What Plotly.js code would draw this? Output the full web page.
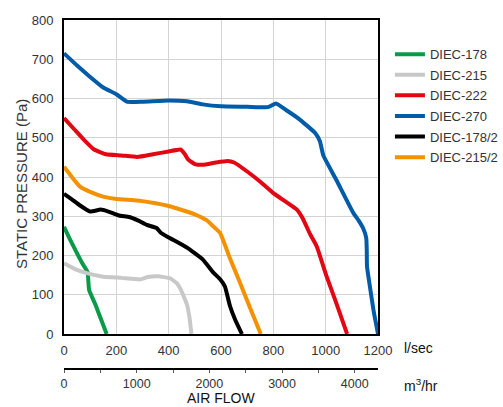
<!DOCTYPE html>
<html>
<head>
<meta charset="utf-8">
<script src="https://cdn.plot.ly/plotly-3.0.1.min.js"></script>
<style>html,body{margin:0;padding:0;background:#fff;}#chart{width:503px;height:407px;}</style>
</head>
<body>
<div id="chart"></div>
<script>
// Series: air flow (l/sec) and static pressure (Pa)
const names = ["DIEC-178", "DIEC-215", "DIEC-222", "DIEC-270", "DIEC-178/2", "DIEC-215/2"];
const colors = ["#0a9a48", "#c8c8c8", "#e30613", "#005ca9", "#000000", "#f39200"];

const flow178 = [0, 20, 45, 70, 90, 93, 96, 120, 140, 163];
const pres178 = [273, 245, 212, 180, 158, 135, 112, 75, 40, 0];

const flow215 = [0, 40, 87, 150, 220, 290, 320, 360, 405, 430, 445, 460, 470, 480, 487];
const pres215 = [180, 166, 155, 146, 143, 139, 145, 147, 142, 130, 115, 92, 75, 40, 0];

const flow222 = [0, 40, 80, 115, 160, 220, 280, 340, 400, 445, 462, 475, 500, 530, 580, 625, 650, 700, 750, 800, 850, 890, 912, 940, 966, 1004, 1040, 1082];
const pres222 = [550, 521, 492, 470, 458, 455, 451, 458, 465, 470, 458, 444, 433, 431, 437, 441, 437, 414, 388, 359, 336, 317, 295, 255, 223, 146, 80, 0];

const flow270 = [0, 50, 100, 150, 200, 240, 300, 400, 470, 530, 600, 700, 780, 810, 850, 900, 960, 978, 991, 1042, 1106, 1125, 1144, 1155, 1157, 1158, 1169, 1183, 1200];
const pres270 = [715, 684, 655, 628, 611, 592, 592, 595, 593, 585, 580, 579, 578, 587, 570, 547, 512, 491, 455, 391, 308, 290, 268, 245, 215, 172, 121, 60, 0];

const flow178_2 = [0, 30, 60, 100, 140, 170, 210, 250, 280, 316, 354, 370, 400, 470, 530, 570, 596, 615, 634, 655, 680];
const pres178_2 = [357, 343, 328, 312, 317, 312, 302, 298, 290, 278, 270, 258, 246, 220, 190, 157, 140, 121, 72, 35, 0];

const flow215_2 = [0, 30, 60, 100, 150, 200, 280, 350, 400, 450, 500, 545, 571, 596, 634, 673, 712, 752];
const pres215_2 = [426, 400, 376, 362, 350, 344, 340, 333, 326, 316, 305, 290, 274, 258, 193, 130, 65, 0];

const flows = [flow178, flow215, flow222, flow270, flow178_2, flow215_2];
const pressures = [pres178, pres215, pres222, pres270, pres178_2, pres215_2];

// m3/hr axis range derived from l/sec range (1 l/s = 3.6 m3/h)
const flowMax = 1200;
const m3hMax = flowMax * 3.6;

const traces = names.map((n, i) => ({
  type: "scatter", mode: "lines", name: n,
  x: flows[i], y: pressures[i],
  line: {color: colors[i], width: 4, shape: "spline", smoothing: 0.4},
  legendgroup: "g" + i,
  hoverinfo: "skip"
}));
traces.push({type: "scatter", mode: "lines", x: [0, m3hMax], y: [null, null], xaxis: "x2", yaxis: "y", showlegend: false, hoverinfo: "skip"});

const txt = "#333333";
const fam = "Liberation Sans, Arial, sans-serif";

const layout = {
  width: 503, height: 407,
  margin: {l: 64, r: 125, t: 20, b: 38, autoexpand: false},
  paper_bgcolor: "#ffffff", plot_bgcolor: "#ffffff",
  font: {family: fam, size: 13, color: txt},
  showlegend: true,
  legend: {x: 1.038, y: 0.945, xanchor: "left", yanchor: "top", font: {size: 13, color: txt}, tracegroupgap: 0.7, bgcolor: "rgba(0,0,0,0)"},
  xaxis: {
    range: [0, flowMax], dtick: 200, anchor: "y",
    showgrid: true, gridcolor: "#d4d4d4", gridwidth: 1,
    showline: true, linecolor: "#000", linewidth: 2, mirror: true,
    ticks: "", ticklabelstandoff: 3, zeroline: false,
    tickfont: {size: 13, color: txt}
  },
  xaxis2: {
    overlaying: "x", anchor: "free", position: 0, side: "bottom",
    range: [0, m3hMax], dtick: 1000, showgrid: false, zeroline: false,
    showline: true, linecolor: "#000", linewidth: 2,
    ticks: "outside", ticklen: 3, tickwidth: 1, tickcolor: "#555",
    minor: {dtick: 500, ticks: "outside", ticklen: 3, tickwidth: 1, tickcolor: "#555"},
    tickfont: {size: 12.5, color: txt}
  },
  yaxis: {
    domain: [0.1003, 1], range: [0, 800], dtick: 100,
    showgrid: true, gridcolor: "#d4d4d4", gridwidth: 1,
    showline: true, linecolor: "#000", linewidth: 2, mirror: true,
    ticks: "", ticklabelstandoff: 6, zeroline: false,
    tickfont: {size: 13, color: txt}
  },
  annotations: [
    {text: "STATIC PRESSURE (Pa)", xref: "paper", yref: "paper", x: -0.137, y: 0.53, textangle: -90, showarrow: false, xanchor: "center", yanchor: "middle", font: {size: 15, color: txt}},
    {text: "AIR FLOW", xref: "paper", yref: "paper", x: 0.5, y: -0.1089, showarrow: false, xanchor: "center", yanchor: "bottom", borderpad: 0, font: {size: 14, color: "#111"}},
    {text: "l/sec", xref: "paper", yref: "paper", x: 1.0755, y: 0.061, showarrow: false, xanchor: "left", yanchor: "middle", font: {size: 14, color: "#111"}},
    {text: "m<sup>3</sup>/hr", xref: "paper", yref: "paper", x: 1.0755, y: -0.0458, showarrow: false, xanchor: "left", yanchor: "middle", font: {size: 14, color: "#111"}}
  ]
};

Plotly.newPlot("chart", traces, layout, {staticPlot: true, displayModeBar: false});
</script>
</body>
</html>
